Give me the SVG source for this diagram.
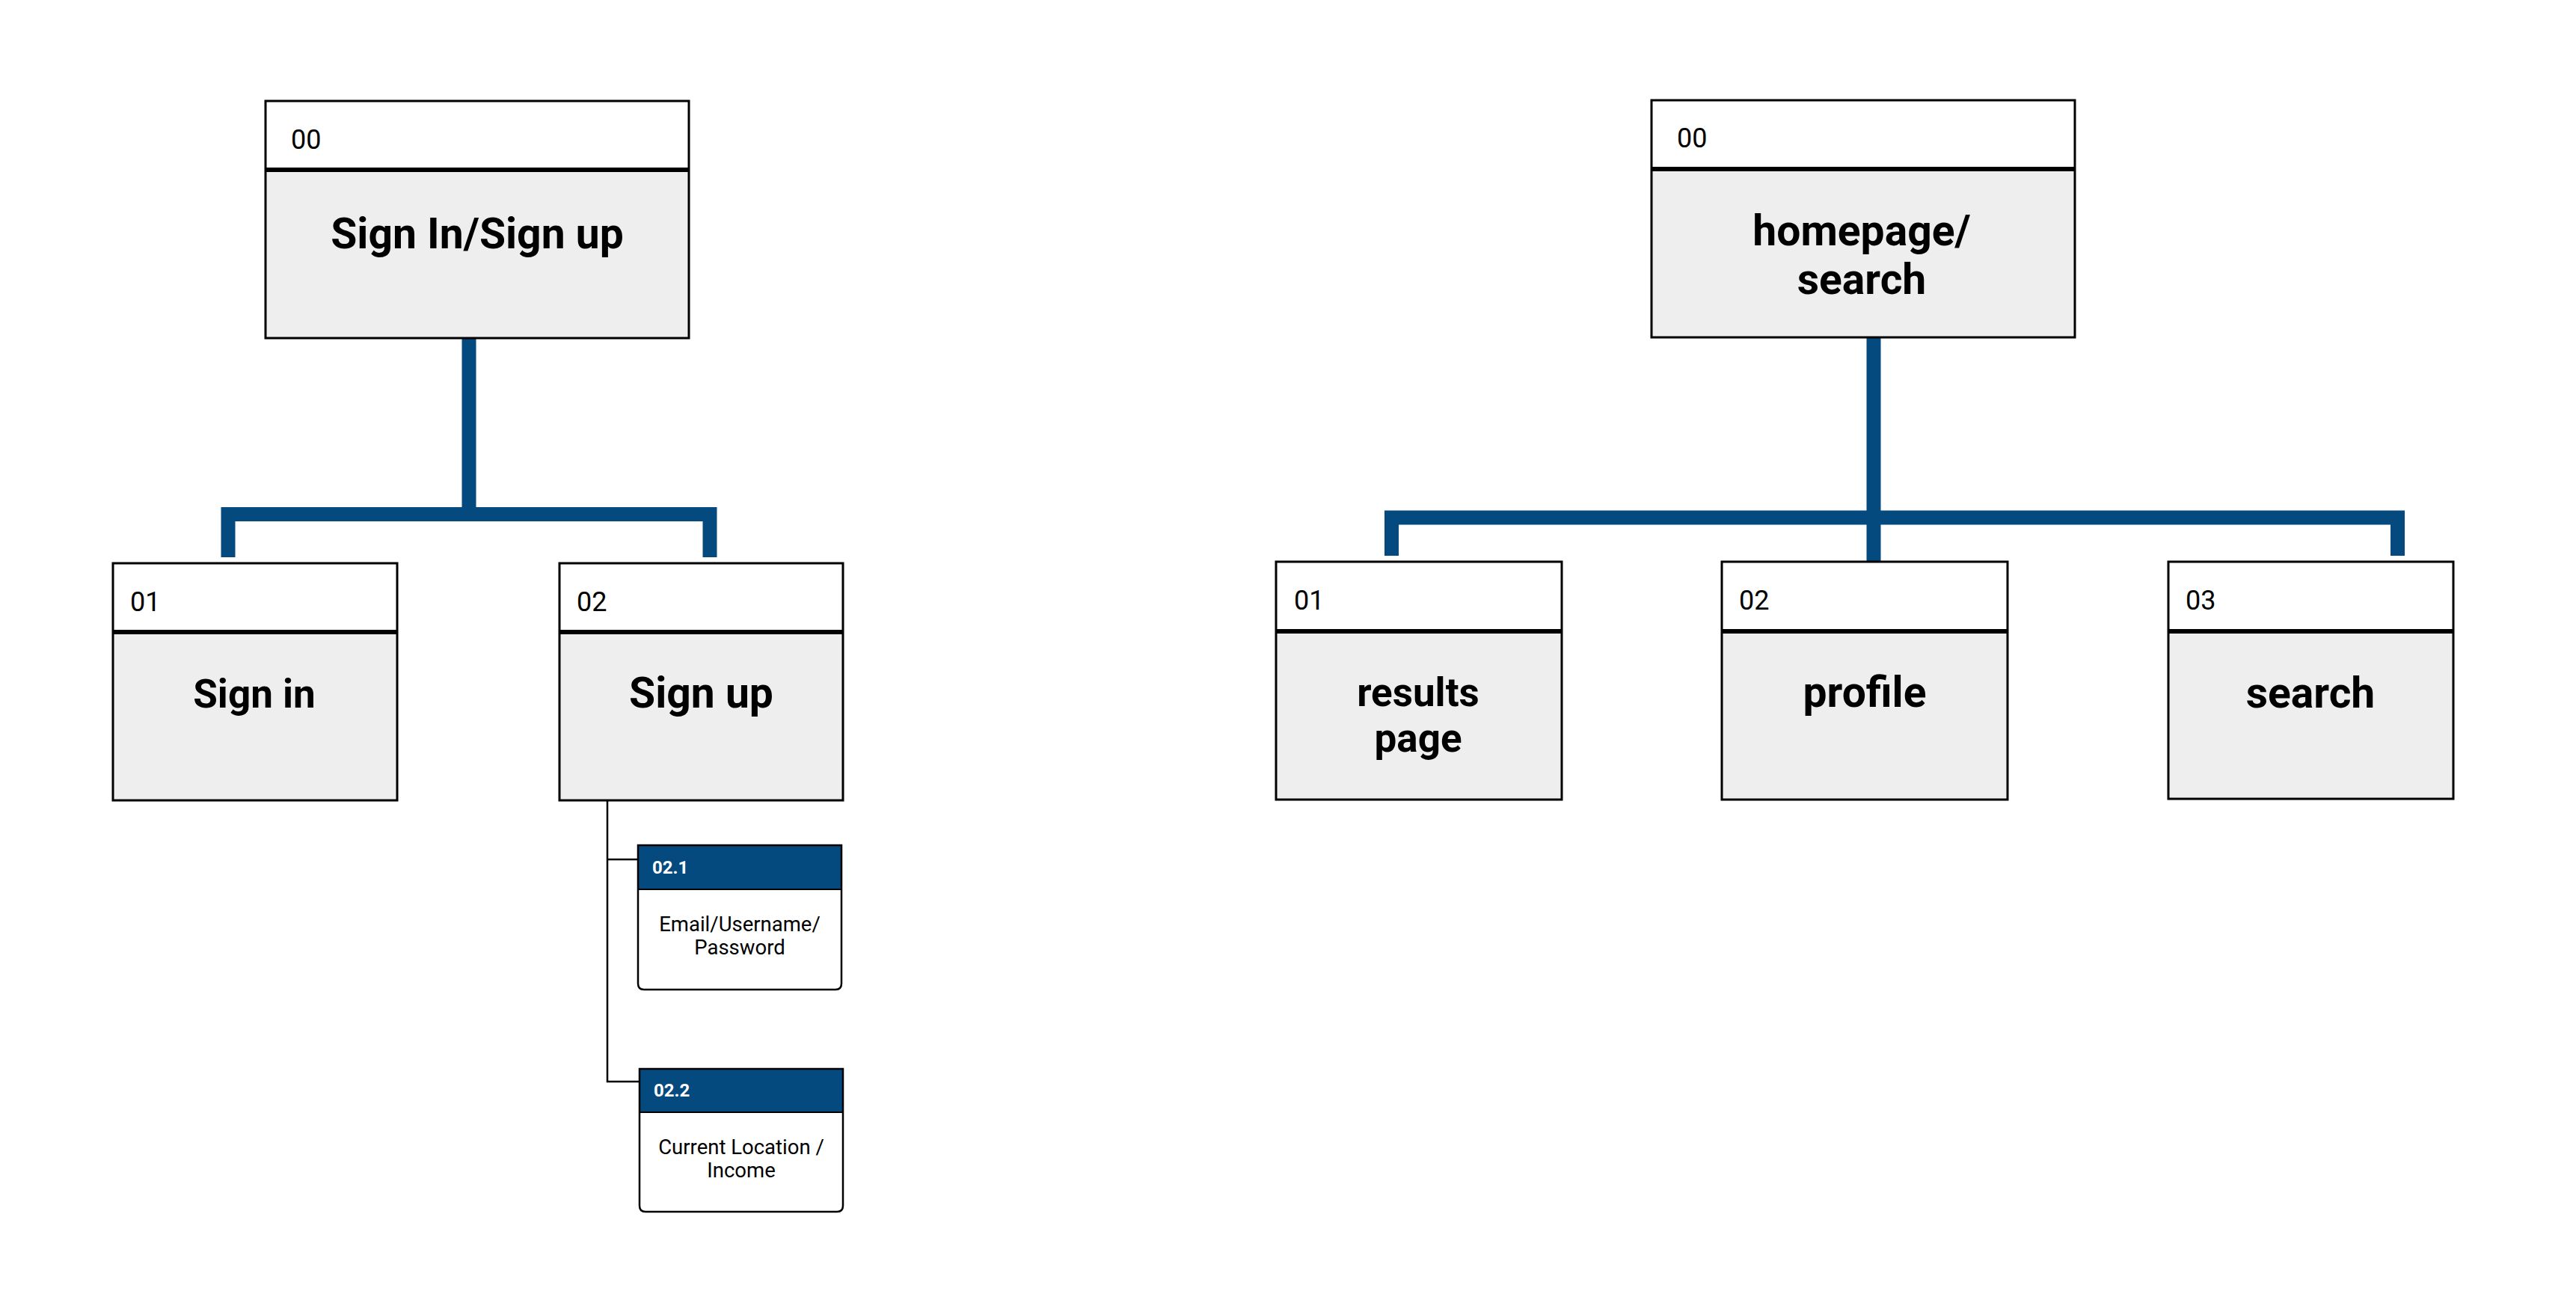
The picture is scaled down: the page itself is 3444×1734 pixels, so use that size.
<svg xmlns="http://www.w3.org/2000/svg" width="3444" height="1734" viewBox="0 0 3444 1734">
  <style>
    .frame { fill: none; stroke: #000; stroke-width: 3; }
    .head { fill: #ffffff; }
    .body { fill: #eeeeee; }
    .divider { stroke: #000; stroke-width: 6; }
    .num { font-family: Roboto, "Liberation Sans", sans-serif; font-size: 36px; fill: #000; }
    .title { font-family: Roboto, "Liberation Sans", sans-serif; font-size: 57px; font-weight: bold; fill: #000; text-anchor: middle; }
    .title.small { font-size: 53px; }
    .trunk { fill: none; stroke: #054a7f; stroke-width: 19; stroke-linejoin: miter; stroke-linecap: butt; }
    .twig { fill: none; stroke: #000; stroke-width: 2.5; }
    .subhead { fill: #054a7f; }
    .subnum { font-family: Roboto, "Liberation Sans", sans-serif; font-size: 24px; font-weight: bold; fill: #ffffff; }
    .subtext { font-family: Roboto, "Liberation Sans", sans-serif; font-size: 27.5px; fill: #000; text-anchor: middle; }
  </style>

  <rect width="3444" height="1734" fill="#ffffff"/>

  <!-- connectors -->
  <g id="connectors">
    <path class="trunk" d="M627,452 V687.5"/>
    <path class="trunk" d="M305,745 V687.5 H949 V745"/>
    <path class="trunk" d="M2505,451 V751"/>
    <path class="trunk" d="M1860.5,743 V692 H3205.5 V743"/>
    <path class="twig" d="M812,1071 V1446 H855"/>
    <path class="twig" d="M812,1149 H853"/>
  </g>

  <!-- left tree -->
  <g id="signin-signup">
    <rect class="head" x="355" y="135" width="566" height="92"/>
    <rect class="body" x="355" y="227" width="566" height="225"/>
    <line class="divider" x1="355" y1="227" x2="921" y2="227"/>
    <rect class="frame" x="355" y="135" width="566" height="317"/>
    <text class="num" x="389" y="199">00</text>
    <text class="title" x="638" y="332">Sign In/Sign up</text>
  </g>

  <g id="sign-in">
    <rect class="head" x="151" y="753" width="380" height="92"/>
    <rect class="body" x="151" y="845" width="380" height="225"/>
    <line class="divider" x1="151" y1="845" x2="531" y2="845"/>
    <rect class="frame" x="151" y="753" width="380" height="317"/>
    <text class="num" x="174" y="817">01</text>
    <text class="title small" x="340" y="946">Sign in</text>
  </g>

  <g id="sign-up">
    <rect class="head" x="748" y="753" width="379" height="92"/>
    <rect class="body" x="748" y="845" width="379" height="225"/>
    <line class="divider" x1="748" y1="845" x2="1127" y2="845"/>
    <rect class="frame" x="748" y="753" width="379" height="317"/>
    <text class="num" x="771" y="817">02</text>
    <text class="title" x="937.5" y="946">Sign up</text>
  </g>

  <g id="credentials">
    <path d="M853,1130 H1125 V1315 Q1125,1323 1117,1323 H861 Q853,1323 853,1315 Z" fill="#ffffff"/>
    <rect class="subhead" x="853" y="1130" width="272" height="59"/>
    <line x1="853" y1="1189" x2="1125" y2="1189" stroke="#000" stroke-width="2"/>
    <path class="frame" style="stroke-width:2.5" d="M853,1130 H1125 V1315 Q1125,1323 1117,1323 H861 Q853,1323 853,1315 Z"/>
    <text class="subnum" x="872" y="1168">02.1</text>
    <text class="subtext" x="989" y="1245">Email/Username/</text>
    <text class="subtext" x="989" y="1276">Password</text>
  </g>

  <g id="location-income">
    <path d="M855,1429 H1127 V1612 Q1127,1620 1119,1620 H863 Q855,1620 855,1612 Z" fill="#ffffff"/>
    <rect class="subhead" x="855" y="1429" width="272" height="58"/>
    <line x1="855" y1="1487" x2="1127" y2="1487" stroke="#000" stroke-width="2"/>
    <path class="frame" style="stroke-width:2.5" d="M855,1429 H1127 V1612 Q1127,1620 1119,1620 H863 Q855,1620 855,1612 Z"/>
    <text class="subnum" x="874" y="1466">02.2</text>
    <text class="subtext" x="991" y="1543">Current Location /</text>
    <text class="subtext" x="991" y="1574">Income</text>
  </g>

  <!-- right tree -->
  <g id="homepage-search">
    <rect class="head" x="2208" y="134" width="566" height="92"/>
    <rect class="body" x="2208" y="226" width="566" height="225"/>
    <line class="divider" x1="2208" y1="226" x2="2774" y2="226"/>
    <rect class="frame" x="2208" y="134" width="566" height="317"/>
    <text class="num" x="2242" y="197">00</text>
    <text class="title" x="2489" y="328">homepage/</text>
    <text class="title" x="2489" y="393">search</text>
  </g>

  <g id="results-page">
    <rect class="head" x="1706" y="751" width="382" height="93"/>
    <rect class="body" x="1706" y="844" width="382" height="225"/>
    <line class="divider" x1="1706" y1="844" x2="2088" y2="844"/>
    <rect class="frame" x="1706" y="751" width="382" height="318"/>
    <text class="num" x="1730" y="815">01</text>
    <text class="title small" x="1896" y="944">results</text>
    <text class="title small" x="1896" y="1005">page</text>
  </g>

  <g id="profile">
    <rect class="head" x="2302" y="751" width="382" height="93"/>
    <rect class="body" x="2302" y="844" width="382" height="225"/>
    <line class="divider" x1="2302" y1="844" x2="2684" y2="844"/>
    <rect class="frame" x="2302" y="751" width="382" height="318"/>
    <text class="num" x="2325" y="815">02</text>
    <text class="title" x="2493" y="945">profile</text>
  </g>

  <g id="search">
    <rect class="head" x="2899" y="751" width="381" height="93"/>
    <rect class="body" x="2899" y="844" width="381" height="224"/>
    <line class="divider" x1="2899" y1="844" x2="3280" y2="844"/>
    <rect class="frame" x="2899" y="751" width="381" height="317"/>
    <text class="num" x="2922" y="815">03</text>
    <text class="title" x="3089" y="946">search</text>
  </g>
</svg>
